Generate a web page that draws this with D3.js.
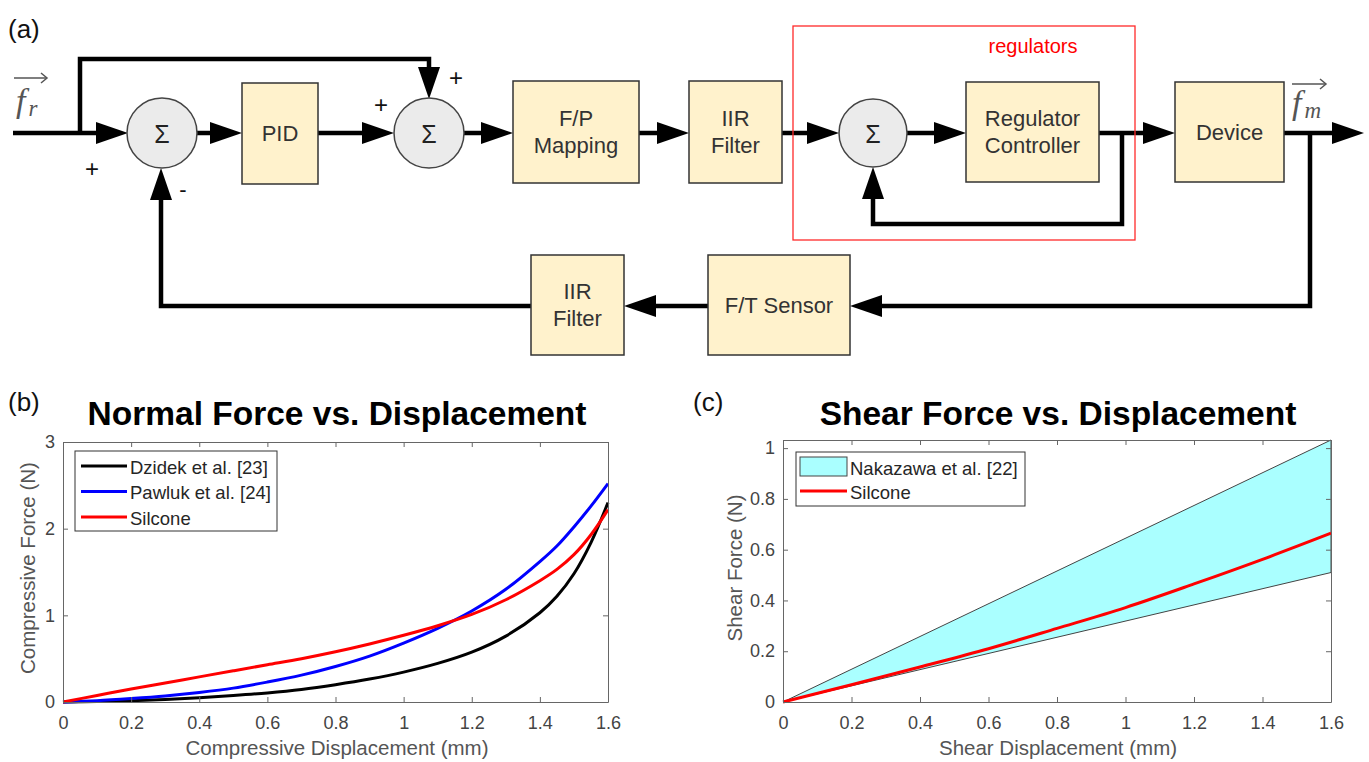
<!DOCTYPE html>
<html lang="en">
<head>
  <meta charset="UTF-8">
  <title>Force control loop and tissue response</title>
  <style>
    body { margin: 0; background: #fff; }
    svg { display: block; font-family: "Liberation Sans", Arial, sans-serif; }
  </style>
  <script src="https://d3js.org/d3.v7.min.js"></script>
</head>
<body>
  <script>
    // ---- data: panel (b) normal force ----
    const dispX    = [0, 0.1, 0.2, 0.3, 0.4, 0.5, 0.6, 0.7, 0.8, 0.9, 1.0, 1.1, 1.2, 1.3, 1.4, 1.45, 1.5, 1.55, 1.6];
    const dzidek   = [0, 0.005, 0.015, 0.03, 0.05, 0.075, 0.105, 0.145, 0.2, 0.265, 0.345, 0.445, 0.575, 0.76, 1.03, 1.22, 1.48, 1.84, 2.3];
    const pawluk   = [0, 0.015, 0.04, 0.07, 0.11, 0.16, 0.23, 0.31, 0.41, 0.53, 0.68, 0.85, 1.05, 1.3, 1.62, 1.8, 2.02, 2.26, 2.52];
    const silicone = [0, 0.075, 0.15, 0.22, 0.29, 0.36, 0.43, 0.5, 0.58, 0.67, 0.77, 0.88, 1.01, 1.18, 1.4, 1.53, 1.7, 1.93, 2.22];
    const normalTicksX = [0, 0.2, 0.4, 0.6, 0.8, 1, 1.2, 1.4, 1.6];
    const normalTicksY = [0, 1, 2, 3];
    const normalLegend = ["Dzidek et al. [23]", "Pawluk et al. [24]", "Silcone"];

    // ---- data: panel (c) shear force ----
    const bandX          = [0, 1.6];
    const nakazawaUpper  = [0, 1.032];
    const nakazawaLower  = [0, 0.51];
    const shearX         = [0, 0.2, 0.4, 0.6, 0.8, 1.0, 1.2, 1.4, 1.6];
    const shearSilicone  = [0, 0.068, 0.138, 0.21, 0.29, 0.372, 0.465, 0.562, 0.665];
    const shearTicksY    = [0, 0.2, 0.4, 0.6, 0.8, 1];
    const shearLegend    = ["Nakazawa et al. [22]", "Silcone"];

    // ---- diagram labels ----
    const blockLabels = [["PID"], ["F/P", "Mapping"], ["IIR", "Filter"], ["Regulator", "Controller"], ["Device"], ["F/T Sensor"], ["IIR", "Filter"]];

    const svg = d3.select("body").append("svg").attr("width", 1369).attr("height", 762);

    // ================= (a) block diagram =================
    const dia = svg.append("g");
    const Y = 133;
    const boxes = [
      [242, 83, 76, 101], [513, 81, 126, 102], [689, 81, 93, 102],
      [966, 82, 133, 100], [1175, 82, 109, 100], [708, 255, 142, 100], [531, 255, 93, 100]
    ];
    const sums = [[162, Y, 35], [429, Y, 35], [873, Y, 34]];

    function wire(pts) {
      dia.append("path")
        .attr("d", d3.line()(pts))
        .attr("fill", "none").attr("stroke", "#000").attr("stroke-width", 4.5)
        .attr("stroke-linejoin", "miter");
    }
    function arrow(tx, ty, dir) {
      const L = 32, h = 11;
      let pts;
      if (dir === "right") pts = [[tx, ty], [tx - L, ty - h], [tx - L, ty + h]];
      if (dir === "left")  pts = [[tx, ty], [tx + L, ty - h], [tx + L, ty + h]];
      if (dir === "up")    pts = [[tx, ty], [tx - h, ty + L], [tx + h, ty + L]];
      if (dir === "down")  pts = [[tx, ty], [tx - h, ty - L], [tx + h, ty - L]];
      dia.append("polygon").attr("points", pts.map(p => p.join(",")).join(" ")).attr("fill", "#000");
    }

    // wires
    wire([[13, Y], [110, Y]]);
    wire([[80, Y], [80, 59], [429, 59], [429, 80]]);
    wire([[196, Y], [225, Y]]);
    wire([[318, Y], [378, Y]]);
    wire([[464, Y], [496, Y]]);
    wire([[639, Y], [672, Y]]);
    wire([[782, Y], [822, Y]]);
    wire([[907, Y], [950, Y]]);
    wire([[1099, Y], [1158, Y]]);
    wire([[1122, Y], [1122, 224], [873, 224], [873, 185]]);
    wire([[1284, Y], [1345, Y]]);
    wire([[1310, Y], [1310, 306], [868, 306]]);
    wire([[708, 306], [642, 306]]);
    wire([[531, 306], [161, 306], [161, 186]]);

    arrow(128, Y, "right");
    arrow(242, Y, "right");
    arrow(394, Y, "right");
    arrow(429, 99, "down");
    arrow(513, Y, "right");
    arrow(689, Y, "right");
    arrow(839, Y, "right");
    arrow(966, Y, "right");
    arrow(873, 167, "up");
    arrow(1175, Y, "right");
    arrow(1364, Y, "right");
    arrow(850, 306, "left");
    arrow(624, 306, "left");
    arrow(161, 168, "up");

    // boxes
    boxes.forEach((b, i) => {
      dia.append("rect").attr("x", b[0]).attr("y", b[1]).attr("width", b[2]).attr("height", b[3])
        .attr("fill", "#fff2cc").attr("stroke", "#333").attr("stroke-width", 1.5);
      const lines = blockLabels[i];
      const cx = b[0] + b[2] / 2, cy = b[1] + b[3] / 2;
      lines.forEach((t, j) => {
        dia.append("text").attr("x", cx).attr("y", cy + (j - (lines.length - 1) / 2) * 27)
          .attr("text-anchor", "middle").attr("dominant-baseline", "central")
          .attr("font-size", 22).attr("fill", "#333").text(t);
      });
    });

    // summing junctions
    sums.forEach(s => {
      dia.append("circle").attr("cx", s[0]).attr("cy", s[1]).attr("r", s[2])
        .attr("fill", "#ebebeb").attr("stroke", "#444").attr("stroke-width", 1.5);
      dia.append("text").attr("x", s[0]).attr("y", s[1] + 1).attr("text-anchor", "middle")
        .attr("dominant-baseline", "central").attr("font-size", 25).attr("fill", "#222").text("Σ");
    });

    // signs
    [["+", 92, 168, 24], ["-", 183, 189, 22], ["+", 381, 104, 24], ["+", 456, 77, 24]].forEach(s => {
      dia.append("text").attr("x", s[1]).attr("y", s[2]).attr("text-anchor", "middle")
        .attr("dominant-baseline", "central").attr("font-size", s[3])
        .attr("fill", "#111").text(s[0]);
    });

    // regulators frame
    dia.append("rect").attr("x", 793).attr("y", 26).attr("width", 342).attr("height", 214)
      .attr("fill", "none").attr("stroke", "#ff2a2a").attr("stroke-width", 1.3);
    dia.append("text").attr("x", 1033).attr("y", 53).attr("text-anchor", "middle")
      .attr("font-size", 20).attr("fill", "#ff0000").text("regulators");

    // vector labels
    function vecLabel(x, y, sub, ax0, ax1, ay) {
      const t = dia.append("text").attr("x", x).attr("y", y).attr("font-family", "'Liberation Serif', serif")
        .attr("font-style", "italic").attr("fill", "#555").attr("font-size", 34);
      t.append("tspan").text("f");
      t.append("tspan").attr("font-size", 23).attr("dx", 3).attr("dy", 4).text(sub);
      dia.append("line").attr("x1", ax0).attr("x2", ax1).attr("y1", ay).attr("y2", ay)
        .attr("stroke", "#555").attr("stroke-width", 1.5);
      dia.append("polyline").attr("points", `${ax1 - 6},${ay - 5} ${ax1},${ay} ${ax1 - 6},${ay + 5}`)
        .attr("fill", "none").attr("stroke", "#555").attr("stroke-width", 1.5);
    }
    vecLabel(16, 112, "r", 14, 47, 78);
    vecLabel(1292, 114, "m", 1292, 1326, 84);

    // panel letters
    [["(a)", 8, 38], ["(b)", 8, 411], ["(c)", 693, 411]].forEach(p => {
      svg.append("text").attr("x", p[1]).attr("y", p[2]).attr("font-size", 26).attr("fill", "#111").text(p[0]);
    });

    // ================= plot helper =================
    function axesFrame(g, x, y, xt, yt) {
      const fmt = d3.format("~g");
      const [x0, x1] = x.range(), [y0, y1] = y.range();
      const style = a => {
        a.selectAll("path").attr("stroke", "#666").attr("stroke-width", 1);
        a.selectAll("line").attr("stroke", "#666");
        a.selectAll("text").attr("fill", "#444").attr("font-size", 18)
          .attr("font-family", "'Liberation Sans', Arial, sans-serif");
      };
      g.append("g").attr("transform", `translate(0,${y0})`)
        .call(d3.axisBottom(x).tickValues(xt).tickFormat(fmt).tickSize(-5).tickSizeOuter(0).tickPadding(14)).call(style);
      g.append("g").attr("transform", `translate(0,${y1})`)
        .call(d3.axisTop(x).tickValues(xt).tickFormat("").tickSize(-5).tickSizeOuter(0)).call(style);
      g.append("g").attr("transform", `translate(${x0},0)`)
        .call(d3.axisLeft(y).tickValues(yt).tickFormat(fmt).tickSize(-5).tickSizeOuter(0).tickPadding(8)).call(style);
      g.append("g").attr("transform", `translate(${x1},0)`)
        .call(d3.axisRight(y).tickValues(yt).tickFormat("").tickSize(-5).tickSizeOuter(0)).call(style);
    }
    function labels(g, title, xl, yl, cx, yx) {
      g.append("text").attr("x", cx).attr("y", 425).attr("text-anchor", "middle")
        .attr("font-size", 33.5).attr("font-weight", "bold").attr("fill", "#000").text(title);
      g.append("text").attr("x", cx).attr("y", 755).attr("text-anchor", "middle")
        .attr("font-size", 20.5).attr("fill", "#555").text(xl);
      g.append("text").attr("transform", `translate(${yx},568) rotate(-90)`).attr("text-anchor", "middle")
        .attr("font-size", 20.5).attr("fill", "#555").text(yl);
    }

    // ================= (b) normal force =================
    const gb = svg.append("g");
    const xb = d3.scaleLinear().domain([0, 1.6]).range([63, 608]);
    const yb = d3.scaleLinear().domain([0, 3]).range([702, 442]);
    const lineB = d3.line().x((d, i) => xb(dispX[i])).y(d => yb(d)).curve(d3.curveCatmullRom.alpha(0.5));
    [[dzidek, "#000"], [pawluk, "#0000ff"], [silicone, "#ff0000"]].forEach(s => {
      gb.append("path").attr("d", lineB(s[0])).attr("fill", "none").attr("stroke", s[1]).attr("stroke-width", 3);
    });
    axesFrame(gb, xb, yb, normalTicksX, normalTicksY);
    labels(gb, "Normal Force vs. Displacement", "Compressive Displacement (mm)", "Compressive Force (N)", 337, 35);

    const legB = gb.append("g");
    legB.append("rect").attr("x", 75).attr("y", 451).attr("width", 202).attr("height", 80)
      .attr("fill", "#fff").attr("stroke", "#333").attr("stroke-width", 1);
    normalLegend.forEach((t, i) => {
      const ly = 466 + i * 25.5;
      legB.append("line").attr("x1", 81).attr("x2", 127).attr("y1", ly).attr("y2", ly)
        .attr("stroke", ["#000", "#0000ff", "#ff0000"][i]).attr("stroke-width", 3);
      legB.append("text").attr("x", 130).attr("y", ly + 1).attr("dominant-baseline", "central")
        .attr("font-size", 18.5).attr("fill", "#262626").text(t);
    });

    // ================= (c) shear force =================
    const gc = svg.append("g");
    const xc = d3.scaleLinear().domain([0, 1.6]).range([783, 1331]);
    const yc = d3.scaleLinear().domain([0, 1.032]).range([702, 440]);
    const band = d3.area().x((d, i) => xc(bandX[i])).y0((d, i) => yc(nakazawaLower[i])).y1(d => yc(d));
    gc.append("path").attr("d", band(nakazawaUpper)).attr("fill", "#aaffff").attr("stroke", "#444").attr("stroke-width", 1);
    const lineC = d3.line().x((d, i) => xc(shearX[i])).y(d => yc(d)).curve(d3.curveCatmullRom.alpha(0.5));
    gc.append("path").attr("d", lineC(shearSilicone)).attr("fill", "none").attr("stroke", "#ff0000").attr("stroke-width", 3);
    axesFrame(gc, xc, yc, normalTicksX, shearTicksY);
    labels(gc, "Shear Force vs. Displacement", "Shear Displacement (mm)", "Shear Force (N)", 1058, 742);

    const legC = gc.append("g");
    legC.append("rect").attr("x", 796).attr("y", 452).attr("width", 229).attr("height", 54)
      .attr("fill", "#fff").attr("stroke", "#333").attr("stroke-width", 1);
    legC.append("rect").attr("x", 800).attr("y", 457).attr("width", 47).attr("height", 19)
      .attr("fill", "#aaffff").attr("stroke", "#444").attr("stroke-width", 1);
    legC.append("line").attr("x1", 800).attr("x2", 847).attr("y1", 491).attr("y2", 491)
      .attr("stroke", "#ff0000").attr("stroke-width", 3);
    shearLegend.forEach((t, i) => {
      legC.append("text").attr("x", 850).attr("y", 468 + i * 24).attr("dominant-baseline", "central")
        .attr("font-size", 18.5).attr("fill", "#262626").text(t);
    });
  </script>
</body>
</html>
